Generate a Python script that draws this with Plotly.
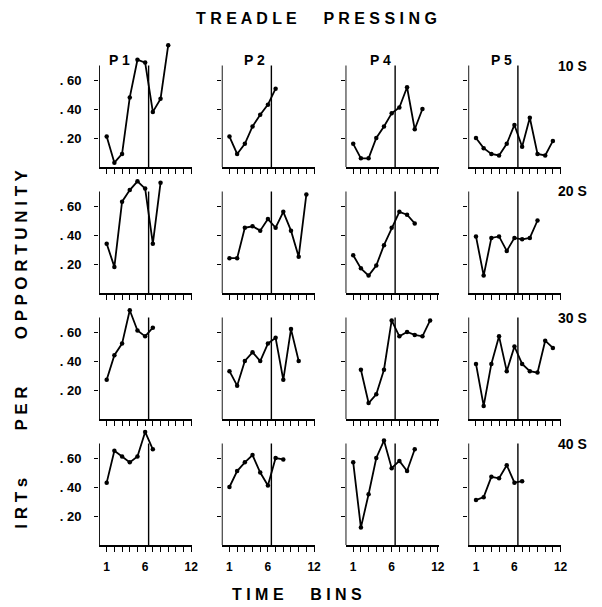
import plotly.graph_objects as go

subjects = ["P 1", "P 2", "P 4", "P 5"]
conditions = ["10 S", "20 S", "30 S", "40 S"]
bins = list(range(1, 13))
bin_labels = ["1", "", "", "", "", "6", "", "", "", "", "", "12"]
y_ticks = [0.2, 0.4, 0.6]
y_labels = [". 20", ". 40", ". 60"]
phase_change = 6.45

# 10 S
p1_10s = [0.21, 0.03, 0.09, 0.48, 0.74, 0.72, 0.38, 0.47, 0.84]
p2_10s = [0.21, 0.09, 0.16, 0.28, 0.36, 0.43, 0.54]
p4_10s = [0.16, 0.06, 0.06, 0.20, 0.28, 0.37, 0.41, 0.55, 0.26, 0.40]
p5_10s = [0.20, 0.13, 0.09, 0.08, 0.16, 0.29, 0.14, 0.34, 0.09, 0.08, 0.18]
# 20 S
p1_20s = [0.34, 0.18, 0.63, 0.71, 0.77, 0.72, 0.34, 0.76]
p2_20s = [0.24, 0.24, 0.45, 0.46, 0.43, 0.51, 0.45, 0.56, 0.43, 0.25, 0.68]
p4_20s = [0.26, 0.17, 0.12, 0.19, 0.33, 0.45, 0.56, 0.54, 0.48]
p5_20s = [0.39, 0.12, 0.38, 0.39, 0.29, 0.38, 0.37, 0.38, 0.50]
# 30 S
p1_30s = [0.27, 0.44, 0.52, 0.75, 0.61, 0.57, 0.63]
p2_30s = [0.33, 0.23, 0.40, 0.46, 0.40, 0.52, 0.56, 0.27, 0.62, 0.40]
p4_30s = [None, 0.34, 0.11, 0.17, 0.34, 0.68, 0.57, 0.60, 0.58, 0.57, 0.68]
p5_30s = [0.38, 0.09, 0.38, 0.57, 0.33, 0.50, 0.38, 0.33, 0.32, 0.54, 0.49]
# 40 S
p1_40s = [0.43, 0.65, 0.61, 0.57, 0.61, 0.78, 0.66]
p2_40s = [0.40, 0.51, 0.57, 0.62, 0.50, 0.41, 0.60, 0.59]
p4_40s = [0.57, 0.12, 0.35, 0.60, 0.72, 0.53, 0.58, 0.51, 0.66]
p5_40s = [0.31, 0.33, 0.47, 0.46, 0.55, 0.43, 0.44]

grid = [
    [p1_10s, p2_10s, p4_10s, p5_10s],
    [p1_20s, p2_20s, p4_20s, p5_20s],
    [p1_30s, p2_30s, p4_30s, p5_30s],
    [p1_40s, p2_40s, p4_40s, p5_40s],
]

W, H = 602, 607
col_left = [100, 224, 349, 473]
panel_w = 94
row_bottom = [167, 293, 419, 545]
px_per_unit = 145.0
x_range = [0, 12.1]
axis_top = 0.70          # visible extent of the frame
y_range = [0, 0.92]      # room for points above the frame

FONT = "Liberation Sans"
fig = go.Figure()
layout = dict(
    width=W, height=H, margin=dict(l=0, r=0, t=0, b=0),
    paper_bgcolor="white", plot_bgcolor="rgba(0,0,0,0)", showlegend=False,
    font=dict(family=FONT, color="black"),
)
shapes = []
annotations = []

for r in range(4):
    for c in range(4):
        k = r * 4 + c + 1
        xa = "xaxis" if k == 1 else f"xaxis{k}"
        ya = "yaxis" if k == 1 else f"yaxis{k}"
        xr = "x" if k == 1 else f"x{k}"
        yr = "y" if k == 1 else f"y{k}"
        vals = grid[r][c]
        fig.add_trace(go.Scatter(
            x=bins[:len(vals)], y=vals, mode="lines+markers",
            line=dict(color="black", width=1.8),
            marker=dict(color="black", size=4.5),
            xaxis=xr, yaxis=yr, cliponaxis=False, connectgaps=False,
        ))
        x0 = col_left[c] / W
        x1 = (col_left[c] + panel_w) / W
        y0 = 1 - row_bottom[r] / H
        y1 = 1 - (row_bottom[r] - px_per_unit * y_range[1]) / H
        layout[xa] = dict(
            domain=[x0, x1], anchor=yr, range=x_range,
            showgrid=False, zeroline=False, showline=True,
            linecolor="black", linewidth=1.8,
            ticks="outside", ticklen=5, tickwidth=1.2, tickcolor="black",
            tickvals=bins, tickangle=0,
            ticktext=[f"<b>{t}</b>" for t in bin_labels] if r == 3 else [""] * 12,
            tickfont=dict(size=12, family=FONT, color="black"),
            ticklabelstandoff=5,
        )
        layout[ya] = dict(
            domain=[y0, y1], anchor=xr, range=y_range,
            showgrid=False, zeroline=False, showline=False,
            ticks="outside", ticklen=4, tickwidth=1.2, tickcolor="black",
            tickvals=y_ticks,
            ticktext=[f"<b>{t}</b>" for t in y_labels] if c == 0 else [""] * 3,
            tickfont=dict(size=13, family=FONT, color="black"),
            ticklabelstandoff=10,
        )
        # left frame line, only up to the top of the frame
        shapes.append(dict(
            type="line", xref=xr, yref=yr,
            x0=x_range[0], x1=x_range[0], y0=0, y1=axis_top,
            line=dict(color="black", width=1.8),
        ))
        # phase-change line
        shapes.append(dict(
            type="line", xref=xr, yref=yr,
            x0=phase_change, x1=phase_change, y0=0, y1=axis_top,
            line=dict(color="black", width=1.4),
        ))

def ann(x, y, text, size, angle=0):
    return dict(
        x=x / W, y=1 - y / H, xref="paper", yref="paper",
        xanchor="center", yanchor="middle",
        text=text, showarrow=False, textangle=angle,
        font=dict(size=size, family=FONT, color="black"),
    )

col_hdr_x = [121, 257, 384, 507]
for c, s in enumerate(subjects):
    annotations.append(ann(col_hdr_x[c], 60, f"<b>{s}</b>", 14))
row_lbl_y = [66, 191, 318, 444]
for r, s in enumerate(conditions):
    annotations.append(ann(578, row_lbl_y[r], f"<b>{s}</b>", 14))

annotations.append(ann(320, 18, "<b>T R E A D L E      P R E S S I N G</b>", 16))
annotations.append(ann(300, 594, "<b>T I M E      B I N S</b>", 16))
annotations.append(ann(21, 349, "<b>I R T s          P E R          O P P O R T U N I T Y</b>", 17, -90))

layout["shapes"] = shapes
layout["annotations"] = annotations
fig.update_layout(**layout)
fig.write_html("out.html")
